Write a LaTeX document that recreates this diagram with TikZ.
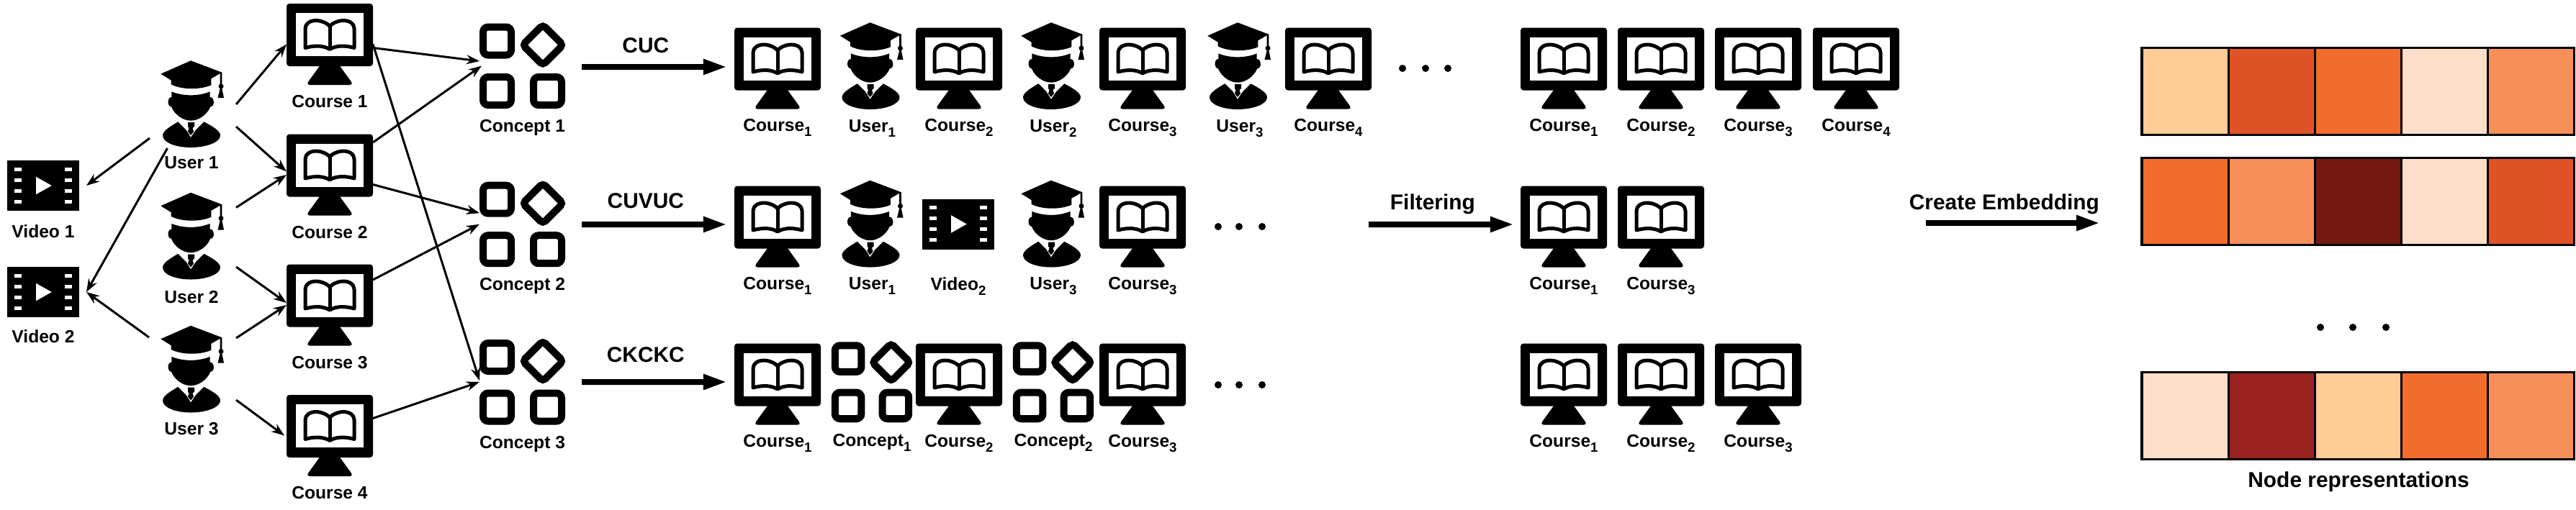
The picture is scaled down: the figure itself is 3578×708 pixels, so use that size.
\documentclass[tikz,border=0pt]{standalone}
\usepackage{fontspec}
\setmainfont{Liberation Sans}
\usetikzlibrary{arrows.meta, positioning}
\definecolor{cPeach}{RGB}{255,203,150}
\definecolor{cRust}{RGB}{223,83,38}
\definecolor{cOrange}{RGB}{242,108,44}
\definecolor{cCream}{RGB}{253,223,201}
\definecolor{cSalmon}{RGB}{247,144,88}
\definecolor{cMaroon}{RGB}{117,24,17}
\definecolor{cBrick}{RGB}{154,35,32}
\newcommand{\idx}[1]{\raisebox{-2pt}{\fontsize{5.3}{6}\selectfont #1}}
\tikzset{
	monitorpic/.pic={
		\fill[rounded corners=.04cm] (-60,-56.5) rectangle (60,30.5);
		\fill[white] (-47,-43.5) rectangle (47,16.5);
		\fill[rounded corners=.05cm] (-11,26) -- (-33,56.5) -- (33,56.5) -- (11,26) -- cycle;
		\draw[line width=.05cm, line join=round] (0,-25) .. controls (-4,-30) and (-13,-33) .. (-19,-33) .. controls (-27,-33) and (-34,-29) .. (-34,-22) -- (-34,5) .. controls (-20,1) and (-8,2) .. (0,7) .. controls (8,2) and (20,1) .. (34,5) -- (34,-22) .. controls (34,-29) and (27,-33) .. (19,-33) .. controls (13,-33) and (4,-30) .. (0,-25) -- cycle;
		\draw[line width=.05cm] (0,-25) -- (0,7);
	},
	userpic/.pic={
		% cap, tassel
		\fill (-42.7,-42.3) -- (-1,-60.7) -- (42.3,-44.3) -- (27.3,-35.7) -- (27.3,-26.7) .. controls (12,-20) and (-14,-20) .. (-28.3,-27.7) -- (-28.3,-33.3) -- cycle;
		\fill (39.7,-44.3) -- (42.3,-44.3) -- (42.3,-22) -- (45,-9) -- (36.5,-9) -- (39.7,-22) -- cycle;
		\fill (41,-25) circle (.035cm);
		% head, body
		\fill (-27.7,-17.7) .. controls (-12,-11) and (10,-11) .. (25.7,-17.7) -- (25.7,-10) .. controls (32,-10) and (33,3) .. (26.3,3.3) .. controls (22,14) and (10,22.7) .. (-1,22.7) .. controls (-12,22.7) and (-24,14) .. (-28,3.3) .. controls (-34,3) and (-34,-10) .. (-27.7,-10) -- cycle;
		\fill (-18.7,24.3) -- (-7.5,35.5) -- (-1,46) -- (6,35.5) -- (17.3,24.3) .. controls (30,31) and (40,37) .. (40,43.3) .. controls (40,53) and (20,60) .. (-1,60) .. controls (-22,60) and (-40,53) .. (-40,43.3) .. controls (-40,37) and (-30,31) .. (-18.7,24.3) -- cycle;
		\fill (-5,25) -- (4,25) -- (4,31) -- (1.5,33) -- (3,38) -- (-1,43) -- (-5,38) -- (-3.5,33) -- (-5,31) -- cycle;
	},
	videopic/.pic={
		\fill (-50,-35) rectangle (50,35);
		\foreach \hy in {-23,-8,7,22} {
			\fill[white] (-40,\hy-2.5) rectangle (-30,\hy+2.5);
			\fill[white] (30,\hy-2.5) rectangle (40,\hy+2.5);
		}
		\fill[white] (-10,-12.3) -- (11.7,0) -- (-10,12.3) -- cycle;
	},
	conceptpic/.pic={
		\draw[line width=.1cm, rounded corners=.07cm] (-54.5,-54) rectangle (-15.5,-15);
		\draw[line width=.1cm, rounded corners=.07cm] (-54.5,15.5) rectangle (-15.5,54.5);
		\draw[line width=.1cm, rounded corners=.07cm] (15.5,15.5) rectangle (54.5,54.5);
		\draw[line width=.1cm, rounded corners=.05cm] (28.5,-57) -- (56.5,-29) -- (28.5,-1) -- (0.5,-29) -- cycle;
	},
	% icons sit in named boxes, so that links can go to them
	monitornode/.style={minimum width=1.2cm, minimum height=1.13cm, inner sep=0, outer sep=0, path picture={\pic at (path picture bounding box.center) {monitorpic};}},
	usernode/.style={minimum width=1.24cm, minimum height=1.2cm, inner sep=0, outer sep=0, path picture={\pic at (path picture bounding box.center) {userpic};}},
	videonode/.style={minimum width=1cm, minimum height=.7cm, inner sep=0, outer sep=.1cm, path picture={\pic at (path picture bounding box.center) {videopic};}},
	conceptnode/.style={minimum size=1.19cm, inner sep=0, outer sep=0, path picture={\pic at (path picture bounding box.center) {conceptpic};}},
	conceptsmall/.style={minimum size=1.12cm, inner sep=0, outer sep=0, path picture={\pic[scale=.94] at (path picture bounding box.center) {conceptpic};}},
	lab/.style={font=\bfseries\fontsize{7}{8}\selectfont, inner sep=0, text height=.18cm, text depth=0pt},
	biglab/.style={font=\bfseries\fontsize{8.5}{10}\selectfont, inner sep=0, text height=.22cm, text depth=0pt},
	linkarrow/.style={-{Stealth[length=.18cm,width=.13cm]}, line width=.03cm},
	metaarrow/.style={-{Triangle[length=.33cm,width=.2cm]}, line width=.08cm},
	embcell/.style={draw=black, line width=.03cm, minimum size=1.2cm, inner sep=0, outer sep=0},
	dotnode/.style={circle, fill=black, inner sep=0, minimum size=.1cm},
}
\begin{document}
\begin{tikzpicture}[x=.01cm, y=-.01cm]
	\useasboundingbox (0,0) rectangle (3578,708);
	% left graph
	\node[videonode] (v1) at (60,258) {};
	\node[videonode] (v2) at (60,406) {};
	\node[lab, below=.19cm of v1.south, yshift=.1cm] (v1l) {Video 1};
	\node[lab, below=.165cm of v2.south, yshift=.1cm] (v2l) {Video 2};
	\foreach \nm/\y/\d/\num in {u1/145/.11/1, u2/328.5/.14/2, u3/513.5/.12/3} {
		\node[usernode] (\nm) at (266,\y) {};
		\node[lab, below=\d cm of \nm] (\nm l) {User \num};
	}
	\foreach \nm/\y/\num in {c1/61.5/1, c2/243/2, c3/424/3, c4/605.5/4} {
		\node[monitornode] (\nm) at (458,\y) {};
		\node[lab, below=.13cm of \nm] (\nm l) {Course \num};
	}
	\foreach \nm/\y/\num in {k1/91.5/1, k2/311.7/2, k3/531/3} {
		\node[conceptnode] (\nm) at (725.5,\y) {};
		\node[lab, below=.14cm of \nm] (\nm l) {Concept \num};
	}
	\draw[linkarrow] ([xshift=.04cm,yshift=-.47cm]u1.west) -- (v1.east);
	\draw[linkarrow] ([xshift=.285cm,yshift=-.61cm]u1.west) -- (v2.east);
	\draw[linkarrow] ([xshift=.03cm,yshift=.445cm]u3.west) -- (v2.east);
	\draw[linkarrow] (u1.east) -- (c1.west);
	\draw[linkarrow] ([yshift=-.31cm]u1.east) -- ([yshift=.045cm]c2.west);
	\draw[linkarrow] ([yshift=.4cm]u2.east) -- (c2.west);
	\draw[linkarrow] ([yshift=-.425cm]u2.east) -- ([yshift=.03cm]c3.west);
	\draw[linkarrow] ([yshift=.435cm]u3.east) -- (c3.west);
	\draw[linkarrow] ([yshift=-.425cm]u3.east) -- ([xshift=-.03cm]c4.west);
	\draw[linkarrow] ([yshift=-.05cm]c1.east) -- ([yshift=.065cm]k1.west);
	\draw[linkarrow] (c1.east) -- ([yshift=.02cm]k3.west);
	\draw[linkarrow] ([yshift=.45cm]c2.east) -- ([xshift=.03cm]k1.west);
	\draw[linkarrow] ([yshift=-.135cm]c2.east) -- ([yshift=.155cm]k2.west);
	\draw[linkarrow] ([yshift=.35cm]c3.east) -- (k2.west);
	\draw[linkarrow] ([yshift=.24cm]c4.east) -- (k3.west);
	% meta-paths, row 1
	\foreach \nm/\x/\num in {a1/1080/1, a2/1332/2, a3/1587/3, a4/1845/4, f1/2172/1, f2/2307/2, f3/2442/3, f4/2578/4} {
		\node[monitornode] (\nm) at (\x,95) {};
		\node[lab, below=.12cm of \nm] (\nm l) {Course\idx{\num}};
	}
	\foreach \nm/\x/\num in {au1/1209.5/1, au2/1461/2, au3/1720/3} {
		\node[usernode] (\nm) at (\x,92) {};
		\node[lab, below=.13cm of \nm, xshift=.02cm] (\nm l) {User\idx{\num}};
	}
	% row 2
	\foreach \nm/\x/\num in {b1/1080/1, b3/1587/3, g1/2172/1, g3/2307/3} {
		\node[monitornode] (\nm) at (\x,315) {};
		\node[lab, below=.12cm of \nm] (\nm l) {Course\idx{\num}};
	}
	\node[usernode] (bu1) at (1209.5,311.5) {};
	\node[videonode] (bv2) at (1331,311.5) {};
	\node[usernode] (bu3) at (1461,311.5) {};
	\node[lab, below=.12cm of bu1, xshift=.02cm] (bu1l) {User\idx{1}};
	\node[lab, below=.38cm of bv2.south, yshift=.1cm] (bv2l) {Video\idx{2}};
	\node[lab, below=.12cm of bu3, xshift=.02cm] (bu3l) {User\idx{3}};
	% row 3
	\foreach \nm/\x/\num in {d1/1080/1, d2/1332/2, d3/1587/3, h1/2172/1, h2/2307/2, h3/2442/3} {
		\node[monitornode] (\nm) at (\x,534) {};
		\node[lab, below=.12cm of \nm] (\nm l) {Course\idx{\num}};
	}
	\node[conceptsmall] (dk1) at (1211,531) {};
	\node[conceptsmall] (dk2) at (1463,531) {};
	\node[lab, below=.15cm of dk1] (dk1l) {Concept\idx{1}};
	\node[lab, below=.15cm of dk2] (dk2l) {Concept\idx{2}};
	% dots
	\foreach \x/\y in {1948/95, 1980/95, 2011/95, 1692/315, 1721/315, 1753/315, 1692/535, 1721/535, 1753/535, 3223/455, 3268/455, 3314/455} {
		\node[dotnode] (dot\x-\y) at (\x,\y) {};
	}
	% big arrows
	\coordinate (m1) at (808,93);
	\coordinate (m2) at (808,312);
	\coordinate (m3) at (808,531);
	\coordinate (fs) at (1901,312);
	\coordinate (cs) at (2675,310);
	\coordinate (ce) at (2917,310);
	\draw[metaarrow] (m1) -- node[biglab, pos=.44, yshift=.3cm] (m1l) {CUC} ([xshift=-.1cm,yshift=.02cm]a1.west);
	\draw[metaarrow] (m2) -- node[biglab, pos=.44, yshift=.33cm] (m2l) {CUVUC} ([xshift=-.1cm,yshift=.03cm]b1.west);
	\draw[metaarrow] (m3) -- node[biglab, pos=.44, yshift=.38cm] (m3l) {CKCKC} ([xshift=-.1cm,yshift=.03cm]d1.west);
	\draw[metaarrow] (fs) -- node[biglab, pos=.44, yshift=.32cm] (fl) {Filtering} ([xshift=-.09cm,yshift=.03cm]g1.west);
	\draw[metaarrow] (cs) -- node[biglab, pos=.45, yshift=.3cm] (cl) {Create Embedding} (ce);
	% embeddings
	\node[embcell, fill=cPeach] (e11) at (3035,127) {};
	\node[embcell, fill=cRust, right=0cm of e11] (e12) {};
	\node[embcell, fill=cOrange, right=0cm of e12] (e13) {};
	\node[embcell, fill=cCream, right=0cm of e13] (e14) {};
	\node[embcell, fill=cSalmon, right=0cm of e14] (e15) {};
	\node[embcell, fill=cOrange] (e21) at (3035,280) {};
	\node[embcell, fill=cSalmon, right=0cm of e21] (e22) {};
	\node[embcell, fill=cMaroon, right=0cm of e22] (e23) {};
	\node[embcell, fill=cCream, right=0cm of e23] (e24) {};
	\node[embcell, fill=cRust, right=0cm of e24] (e25) {};
	\node[embcell, fill=cCream] (e31) at (3035,578) {};
	\node[embcell, fill=cBrick, right=0cm of e31] (e32) {};
	\node[embcell, fill=cPeach, right=0cm of e32] (e33) {};
	\node[embcell, fill=cOrange, right=0cm of e33] (e34) {};
	\node[embcell, fill=cSalmon, right=0cm of e34] (e35) {};
	\node[biglab] (nr) at (3276,666) {Node representations};
\end{tikzpicture}
\end{document}
